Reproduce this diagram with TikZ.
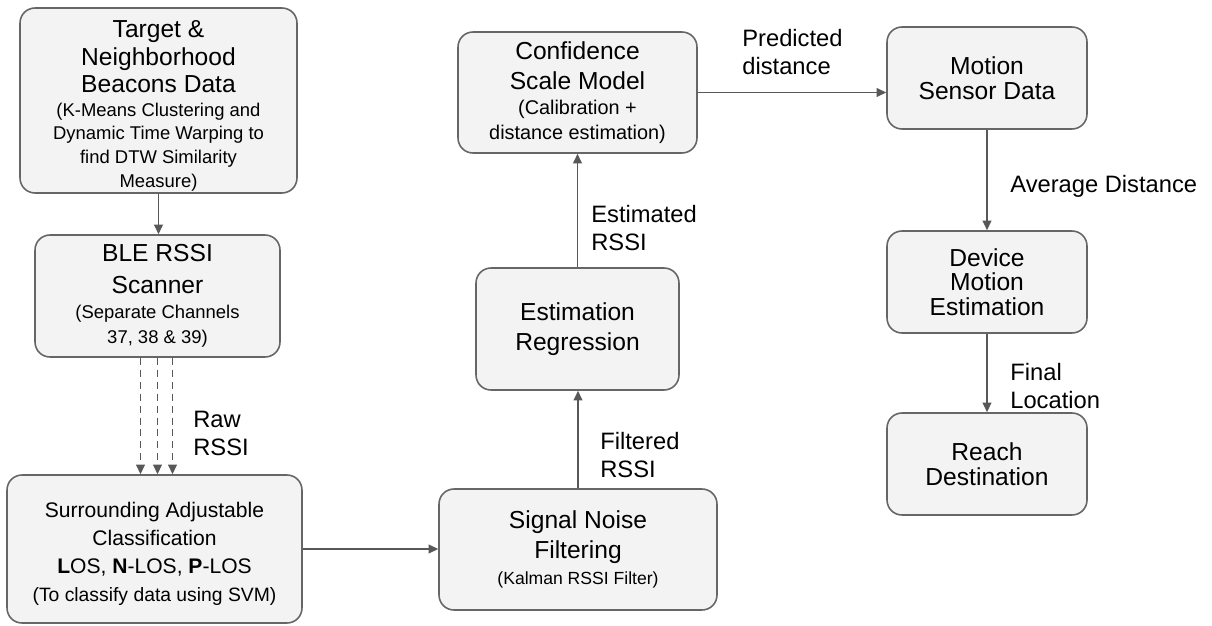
\documentclass[tikz,border=0pt]{standalone}
\usepackage{fontspec}
\setmainfont{Liberation Sans}
\usetikzlibrary{arrows.meta,positioning}

\definecolor{kader}{HTML}{666666}
\definecolor{vulling}{HTML}{F3F3F3}
\definecolor{lijn}{HTML}{585858}
\newcommand{\klein}{\fontsize{10.5}{13.5}\selectfont}

\begin{document}
\begin{tikzpicture}[x=0.02cm,y=-0.02cm,
	blok/.style={draw=kader, fill=vulling, rounded corners=8.5pt, line width=0.9pt,
		align=center, inner sep=1pt, font=\fontsize{14}{16}\selectfont},
	pijl/.style={draw=lijn, line width=0.9pt, -{Triangle[length=5.5pt,width=5pt]}},
	tekst/.style={anchor=north west, inner sep=0pt, align=left, font=\fontsize{13.5}{16}\selectfont}]

	\useasboundingbox (0,0) rectangle (1212,625);

% 1. Linkerkolom
\node[blok, minimum width=5.54cm, minimum height=3.7cm] (tnb) at (158.5,100.5)
	{\rule{0pt}{16pt}Target \&\\[-0.5pt] Neighborhood\\[-0.5pt] Beacons Data\\[-2.5pt]
	 \klein (K-Means Clustering and\\[-2.5pt] \klein Dynamic Time Warping to\\[-2.5pt]
	 \klein find DTW Similarity\\[-2.5pt] \klein Measure)};
\node[blok, minimum width=4.9cm, minimum height=2.44cm] (ble) at (157.5,296)
	{BLE RSSI\\[2pt] Scanner\\[-1.5pt] \klein (Separate Channels\\[-1.5pt] \klein 37, 38 \& 39)};
\node[blok, minimum width=5.9cm, minimum height=2.96cm, font=\fontsize{12}{16}\selectfont] (sac) at (154.5,549)
	{\rule{0pt}{14pt}Surrounding Adjustable\\ Classification\\ {\bfseries L}OS, {\bfseries N}-LOS, {\bfseries P}-LOS\\
	 \fontsize{11}{13}\selectfont (To classify data using SVM)};

% 2. Middenkolom
\node[blok, minimum width=5.56cm, minimum height=2.42cm] (snf) at (578,549.5)
	{Signal Noise\\[1pt] Filtering\\[-1pt] \fontsize{10}{12}\selectfont (Kalman RSSI Filter)};
\node[blok, minimum width=4.06cm, minimum height=2.44cm] (er) at (577.5,329)
	{Estimation\\[1pt] Regression};
\node[blok, minimum width=4.78cm, minimum height=2.42cm] (csm) at (577.5,92.5)
	{Confidence\\[1pt] Scale Model\\[-1.5pt] \fontsize{11.3}{13.5}\selectfont (Calibration +\\[-2pt]
	 \fontsize{11.3}{13.5}\selectfont distance estimation)};

% 3. Rechterkolom
\node[blok, minimum width=4cm, minimum height=2.04cm] (msd) at (987,78) {Motion\\[-2pt] Sensor Data};
\node[blok, minimum width=4cm, minimum height=2.04cm] (dme) at (987,282) {Device\\[-2pt] Motion\\[-2pt] Estimation};
\node[blok, minimum width=4cm, minimum height=2.04cm] (rd) at (987,464) {Reach\\[-2pt] Destination};

% pijlen
\draw[pijl] (tnb.south) -- (tnb.south |- ble.north);
\foreach \dx in {-17,0,15}
	\draw[pijl, line width=1pt, dash pattern=on 4pt off 2.8pt] ([xshift=\dx*0.02cm]ble.south) -- ([xshift=\dx*0.02cm]ble.south |- sac.north);
\draw[pijl] (sac.east) -- (sac.east -| snf.west);
\draw[pijl] (snf.north) -- (snf.north |- er.south);
\draw[pijl] (er.north) -- (er.north |- csm.south);
\draw[pijl] (csm.east) -- (csm.east -| msd.west);
\draw[pijl] (msd.south) -- (dme.north);
\draw[pijl] (dme.south) -- (rd.north);

% labels
\node[tekst] (lraw) at (193,411) {Raw\\RSSI};
\node[tekst] (lpred) at (742,29) {Predicted\\distance};
\node[tekst] (lest) at (591,205) {Estimated\\RSSI};
\node[tekst] (lfil) at (600,432) {Filtered\\RSSI};
\node[tekst] (lavg) at (1010,175) {Average Distance};
\node[tekst] (lfin) at (1010,363) {Final\\Location};

\end{tikzpicture}
\end{document}
